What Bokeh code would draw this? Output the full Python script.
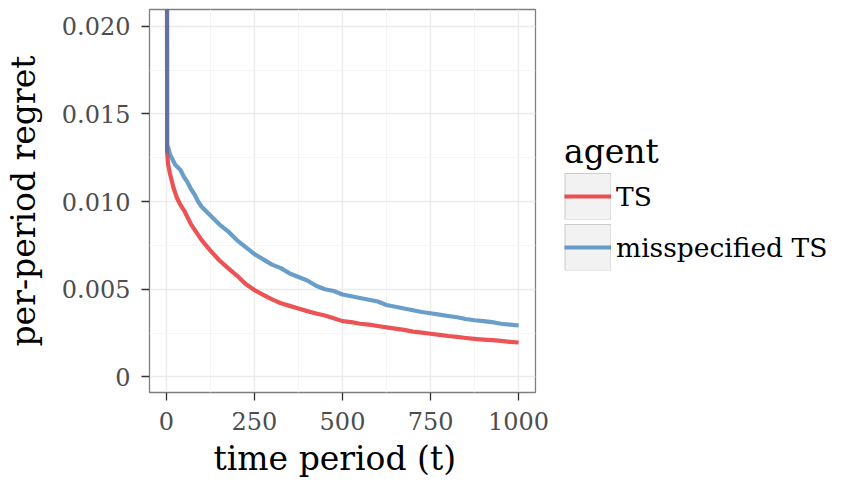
from bokeh.plotting import figure
from bokeh.models import (ColumnDataSource, Legend, LegendItem, FixedTicker, Range1d, Title)
from bokeh.embed import file_html
from bokeh.resources import INLINE

# ---- data ----
t_values = [1, 2, 5, 10, 15, 20, 25, 30, 40, 50, 60, 70, 80, 90, 100,
            125, 150, 175, 200, 225, 250, 275, 300, 325, 350, 375, 400,
            425, 450, 475, 500, 525, 550, 575, 600, 625, 650, 675, 700,
            725, 750, 775, 800, 825, 850, 875, 900, 925, 950, 975, 1000]

ts_regret = [0.05, 0.0128, 0.0121, 0.0116, 0.0112, 0.0108, 0.0105, 0.0102,
             0.0098, 0.0095, 0.0091, 0.0087, 0.0084, 0.0081, 0.0078,
             0.0072, 0.00665, 0.0062, 0.00578, 0.0053, 0.00495, 0.00468,
             0.00442, 0.0042, 0.00405, 0.0039, 0.00375, 0.00362, 0.0035,
             0.00335, 0.00318, 0.00312, 0.00303, 0.00298, 0.0029, 0.00282,
             0.00275, 0.00268, 0.00258, 0.00252, 0.00246, 0.0024, 0.00233,
             0.00228, 0.00222, 0.00217, 0.00213, 0.0021, 0.00205, 0.002,
             0.00196]

mis_regret = [0.05, 0.0129, 0.0131, 0.0127, 0.0125, 0.0123, 0.0121, 0.0120,
              0.0118, 0.0114, 0.0111, 0.0107, 0.0104, 0.0100, 0.0097,
              0.0092, 0.0087, 0.0083, 0.0078, 0.0074, 0.0070, 0.0067,
              0.0064, 0.0062, 0.0059, 0.0057, 0.0055, 0.0052, 0.0050,
              0.0049, 0.0047, 0.0046, 0.0045, 0.0044, 0.0043, 0.0041,
              0.0040, 0.0039, 0.0038, 0.0037, 0.00363, 0.00355, 0.00347,
              0.0034, 0.0033, 0.00323, 0.00318, 0.00312, 0.00303, 0.00298,
              0.00293]

agents = ["TS", "misspecified TS"]
agent_colors = ["#E41A1C", "#377EB8"]

x_ticks = [0, 250, 500, 750, 1000]
x_minor = [-125, 125, 375, 625, 875]
y_ticks = [0, 0.005, 0.010, 0.015, 0.020]
y_tick_labels = ["0", "0.005", "0.010", "0.015", "0.020"]
y_minor = [0.0025, 0.0075, 0.0125, 0.0175]

FONT = "DejaVu Serif"

p = figure(frame_width=386, frame_height=383, output_backend="svg", toolbar_location=None,
           x_range=Range1d(-48, 1048), y_range=Range1d(-0.00089, 0.02095),
           min_border_left=140, min_border_right=0, min_border_top=9,
           min_border_bottom=86)

p.background_fill_color = "white"
p.border_fill_color = "white"
p.outline_line_color = "#7f7f7f"
p.outline_line_width = 1.3

src_ts = ColumnDataSource(dict(t=t_values, v=ts_regret))
src_mis = ColumnDataSource(dict(t=t_values, v=mis_regret))

r_ts = p.line("t", "v", source=src_ts, line_color=agent_colors[0], line_alpha=0.75,
              line_width=4.2, line_join="round")
r_mis = p.line("t", "v", source=src_mis, line_color=agent_colors[1], line_alpha=0.75,
               line_width=4.2, line_join="round")

# legend key boxes: off-screen thick lines, used only for the legend glyphs
KEY = 47
key_border = p.line(x=[5000, 5001], y=[1.0, 1.0], line_color="#cccccc", line_width=KEY)
key_fill = p.line(x=[5000, 5001], y=[1.0, 1.0], line_color="#f2f2f2", line_width=KEY - 2,
                  line_dash="0 1 %d 1000" % (KEY - 2))

# axes
p.xaxis.ticker = FixedTicker(ticks=x_ticks, minor_ticks=x_minor)
p.yaxis.ticker = FixedTicker(ticks=y_ticks, minor_ticks=y_minor)
p.yaxis.major_label_overrides = {tv: lab for tv, lab in zip(y_ticks, y_tick_labels)}

for ax in (p.xaxis, p.yaxis):
    ax.axis_line_color = None
    ax.major_tick_line_color = "#333333"
    ax.major_tick_line_width = 1.3
    ax.major_tick_out = 8
    ax.major_tick_in = 0
    ax.minor_tick_line_color = None
    ax.major_label_text_font = FONT
    ax.major_label_text_font_size = "24px"
    ax.major_label_text_color = "#4d4d4d"
    ax.axis_label_text_font = FONT
    ax.axis_label_text_font_size = "33px"
    ax.axis_label_text_font_style = "normal"
    ax.axis_label_text_color = "black"

p.yaxis.axis_label = "per-period regret"
p.xaxis.major_label_standoff = 11
p.yaxis.major_label_standoff = 11
p.yaxis.axis_label_standoff = 16

x_title = Title(text="time period (t)", align="left", offset=64, standoff=8,
                text_font=FONT, text_font_size="33px", text_font_style="normal",
                text_color="black")
p.add_layout(x_title, "below")

for g in (p.xgrid, p.ygrid):
    g.grid_line_color = "#ebebeb"
    g.grid_line_width = 1.3
    g.minor_grid_line_color = "#f5f5f5"
    g.minor_grid_line_width = 1.0

legend = Legend(items=[LegendItem(label=agents[0], renderers=[key_border, key_fill, r_ts]),
                       LegendItem(label=agents[1], renderers=[key_border, key_fill, r_mis])],
                title="agent", location="center_left", orientation="vertical")
legend.glyph_width = KEY
legend.glyph_height = KEY
legend.spacing = 4
legend.label_standoff = 5
legend.label_text_font = FONT
legend.label_text_font_size = "26.5px"
legend.label_text_color = "black"
legend.title_text_font = FONT
legend.title_text_font_size = "33px"
legend.title_text_font_style = "normal"
legend.title_text_color = "black"
legend.title_standoff = 2
legend.padding = 0
legend.margin = 29
legend.border_line_color = None
legend.background_fill_alpha = 0
p.add_layout(legend, "right")

open("out.html", "w").write(file_html(p, INLINE))
